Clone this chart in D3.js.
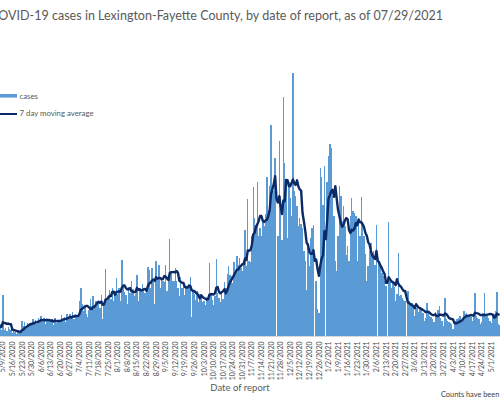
<!DOCTYPE html>
<html>
<head>
<meta charset="utf-8">
<script src="https://cdn.jsdelivr.net/npm/d3@7"></script>
<style>
  body { margin: 0; background: #fff; }
  svg { display: block; font-family: Lato, "Open Sans", sans-serif; }
</style>
</head>
<body>
<div id="chart"></div>
<script>
// daily cases by date of report, one row per week (Sun..Sat), first day 4/26/2020
var startDay = [2020, 3, 26];
var cases = [
  14, 30, 22, 28, 26, 24, 20,
  16, 22, 18, 20, 14, 24, 12,
  82, 12, 16, 10, 18, 14, 12,
  6, 10, 8, 4, 12, 10, 6,
  30, 20, 28, 18, 26, 22, 24,
  26, 34, 28, 32, 24, 36, 30,
  40, 28, 36, 24, 34, 30, 32,
  28, 34, 22, 36, 26, 32, 32,
  30, 42, 34, 38, 28, 44, 36,
  44, 36, 48, 34, 42, 38, 38,
  70, 96, 64, 50, 58, 44, 38,
  52, 74, 60, 80, 62, 70, 64,
  70, 56, 82, 34, 66, 134, 76,
  80, 92, 74, 96, 70, 88, 116,
  84, 96, 70, 152, 100, 88, 82,
  64, 98, 86, 110, 94, 80, 84,
  122, 70, 96, 88, 104, 92, 86,
  96, 138, 132, 96, 136, 108, 64,
  150, 116, 142, 96, 118, 110, 108,
  142, 90, 120, 194, 130, 110, 110,
  136, 110, 96, 80, 118, 96, 106,
  82, 100, 96, 104, 118, 38, 92,
  84, 72, 90, 68, 84, 80, 68,
  70, 62, 78, 74, 146, 86, 72,
  62, 80, 154, 86, 76, 68, 90,
  74, 108, 96, 124, 140, 122, 120,
  106, 148, 132, 160, 142, 156, 136,
  130, 150, 212, 140, 274, 150, 148,
  200, 298, 236, 222, 308, 200, 216,
  200, 230, 220, 244, 318, 252, 300,
  422, 300, 290, 356, 0, 200, 390,
  280, 192, 478, 346, 300, 196, 308,
  276, 240, 526, 290, 280, 260, 220,
  236, 224, 216, 170, 150, 92, 186,
  140, 196, 216, 222, 0, 110, 54,
  46, 336, 318, 262, 340, 0, 308,
  360, 384, 376, 280, 240, 150, 130,
  200, 300, 280, 230, 260, 220, 162,
  180, 150, 240, 276, 250, 246, 240,
  150, 230, 200, 278, 220, 200, 164,
  110, 140, 170, 186, 160, 170, 142,
  222, 0, 150, 140, 126, 120, 110,
  100, 0, 228, 110, 96, 110, 98,
  70, 84, 166, 80, 82, 76, 72,
  70, 0, 90, 70, 64, 66, 60,
  40, 56, 62, 48, 58, 54, 46,
  30, 36, 66, 50, 40, 38, 34,
  28, 48, 40, 52, 60, 36, 30,
  20, 76, 34, 30, 28, 26, 24,
  14, 26, 30, 34, 36, 40, 30,
  34, 50, 44, 46, 40, 42, 38,
  30, 44, 86, 40, 36, 34, 24,
  28, 46, 86, 42, 40, 36, 30,
  26, 40, 44, 50, 88, 24, 22
];
var tickLabels = ["5/9/2020", "5/16/2020", "5/23/2020", "5/30/2020", "6/6/2020", "6/13/2020",
  "6/20/2020", "6/27/2020", "7/4/2020", "7/11/2020", "7/18/2020", "7/25/2020", "8/1/2020",
  "8/8/2020", "8/15/2020", "8/22/2020", "8/29/2020", "9/5/2020", "9/12/2020", "9/19/2020",
  "9/26/2020", "10/3/2020", "10/10/2020", "10/17/2020", "10/24/2020", "10/31/2020",
  "11/7/2020", "11/14/2020", "11/21/2020", "11/28/2020", "12/5/2020", "12/12/2020",
  "12/19/2020", "12/26/2020", "1/2/2021", "1/9/2021", "1/16/2021", "1/23/2021", "1/30/2021",
  "2/6/2021", "2/13/2021", "2/20/2021", "2/27/2021", "3/6/2021", "3/13/2021", "3/20/2021",
  "3/27/2021", "4/3/2021", "4/10/2021", "4/17/2021", "4/24/2021", "5/1/2021"];
var seriesNames = ["cases", "7 day moving average"];
var title = "COVID-19 cases in Lexington-Fayette County, by date of report, as of 07/29/2021";

var width = 500, height = 399;
var barColor = "#5b9bd5", lineColor = "#0c2a66", textColor = "#595959";

var data = cases.map(function (v, i) {
  return { date: new Date(startDay[0], startDay[1], startDay[2] + i), value: v };
});
// trailing 7 day moving average
var avg = [];
for (var i = 6; i < data.length; i++) {
  avg.push({ date: data[i].date, value: d3.mean(data.slice(i - 6, i + 1), function (d) { return d.value; }) });
}

var svg = d3.select("#chart").append("svg")
  .attr("width", width)
  .attr("height", height);

// the plot is wider than the window, so only part of it shows
var x = d3.scaleTime()
  .domain([new Date(2020, 4, 16), new Date(2021, 4, 1)])
  .range([11, 490]);
var y = d3.scaleLinear()
  .domain([0, 600])
  .range([336, 36]);
var step = x(new Date(2020, 4, 17)) - x(new Date(2020, 4, 16));
var bw = step * 1.04;

// title
svg.append("text")
  .attr("x", -10)
  .attr("y", 19.5)
  .attr("textLength", 453)
  .attr("lengthAdjust", "spacingAndGlyphs")
  .style("font-size", "13.5px")
  .style("fill", textColor)
  .text(title);

// bars
svg.selectAll("rect.bar")
  .data(data)
  .enter()
  .append("rect")
  .attr("class", "bar")
  .attr("x", function (d) { return x(d.date) - bw / 2; })
  .attr("y", function (d) { return y(d.value); })
  .attr("width", bw)
  .attr("height", function (d) { return y(0) - y(d.value); })
  .attr("shape-rendering", "crispEdges")
  .style("fill", barColor);

// axis line
svg.append("line")
  .attr("x1", 0).attr("x2", width)
  .attr("y1", y(0) + 0.5).attr("y2", y(0) + 0.5)
  .attr("stroke", "#d9d9d9");

// moving average
svg.append("path")
  .datum(avg)
  .attr("fill", "none")
  .attr("stroke", lineColor)
  .attr("stroke-width", 2.4)
  .attr("stroke-linejoin", "round")
  .attr("d", d3.line()
    .x(function (d) { return x(d.date); })
    .y(function (d) { return y(d.value); }));

// x axis labels
var parse = d3.timeParse("%m/%d/%Y");
var tickDates = tickLabels.map(parse);
var xAxis = svg.append("g")
  .attr("transform", "translate(1," + (y(0) + 5.5) + ")")
  .call(d3.axisBottom(x)
    .tickValues(tickDates)
    .tickSize(0)
    .tickPadding(0)
    .tickFormat(function (d, i) { return tickLabels[i]; }));
xAxis.select(".domain").remove();
xAxis.selectAll("text")
  .attr("transform", "rotate(-90)")
  .attr("x", 0)
  .attr("y", 0)
  .attr("dy", "0.35em")
  .style("text-anchor", "end")
  .style("font-family", "Lato, sans-serif")
  .style("font-size", "7px")
  .style("fill", "#4a4a4a");

// axis title
svg.append("text")
  .attr("x", 240)
  .attr("y", 391)
  .style("text-anchor", "middle")
  .style("font-size", "9.5px")
  .style("fill", textColor)
  .text("Date of report");

// note at the bottom right
svg.append("text")
  .attr("x", 441)
  .attr("y", 397)
  .style("font-size", "7.4px")
  .style("fill", "#404040")
  .text("Counts have been");

// legend
var legend = svg.append("g");
legend.append("rect")
  .attr("x", -4).attr("y", 94)
  .attr("width", 21).attr("height", 3.6)
  .style("fill", barColor);
legend.append("line")
  .attr("x1", -4).attr("x2", 17)
  .attr("y1", 114).attr("y2", 114)
  .attr("stroke", lineColor)
  .attr("stroke-width", 2);
legend.selectAll("text")
  .data(seriesNames)
  .enter()
  .append("text")
  .attr("x", 19.5)
  .attr("y", function (d, i) { return 98.5 + i * 17.5; })
  .style("font-size", "7.8px")
  .style("fill", textColor)
  .text(function (d) { return d; });
</script>
</body>
</html>
